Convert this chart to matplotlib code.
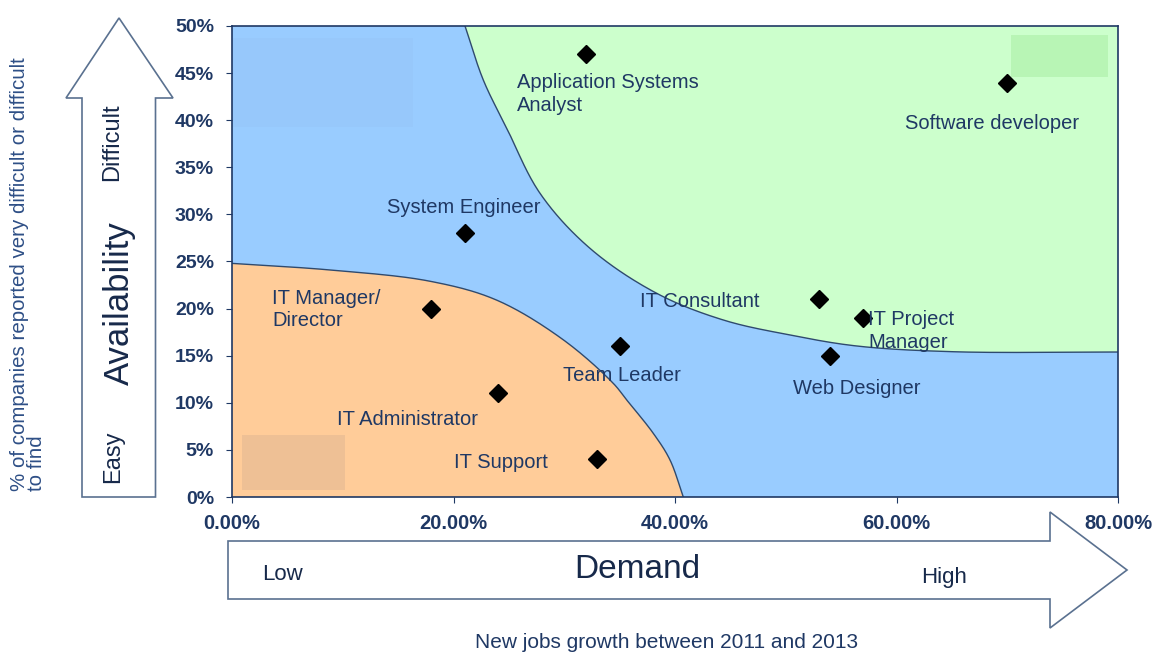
import numpy as np
import matplotlib
matplotlib.use('Agg')
import matplotlib.pyplot as plt
from matplotlib.patches import Polygon, Rectangle
from matplotlib.ticker import FuncFormatter, MultipleLocator

plt.rcParams['font.family'] = ['Liberation Sans', 'DejaVu Sans']

# job roles: demand (new jobs growth) vs availability (% hard to find)
roles = ['Application Systems\nAnalyst', 'Software developer', 'System Engineer',
         'IT Manager/\nDirector', 'Team Leader', 'IT Administrator', 'IT Support',
         'IT Consultant', 'IT Project\nManager', 'Web Designer']
demand = [0.32, 0.70, 0.21, 0.18, 0.35, 0.24, 0.33, 0.53, 0.57, 0.54]
availability = [0.47, 0.44, 0.28, 0.20, 0.16, 0.11, 0.04, 0.21, 0.19, 0.15]
# label offsets in pixels (dx, dy) from the marker, left aligned
label_dx = [-69, -102, -78, -159, -57, -161, -143, -179, 5, -37]
label_dy = [-40, -41, 26, -1, -29, -26, -3, -2, -13, -33]

# zone boundaries
green_x = [0.2104, 0.2269, 0.248, 0.2781, 0.3232, 0.3835, 0.4436, 0.5038, 0.5641,
           0.6519, 0.80]
green_y = [0.50, 0.4427, 0.3917, 0.3224, 0.264, 0.2162, 0.1879, 0.172, 0.1603,
           0.1542, 0.1539]
orange_x = [0.0, 0.0885, 0.179, 0.239, 0.299, 0.344, 0.3564, 0.3804, 0.3955, 0.4075]
orange_y = [0.248, 0.241, 0.229, 0.209, 0.167, 0.121, 0.103, 0.0676, 0.0393, 0.0]

xticks = [0.0, 0.2, 0.4, 0.6, 0.8]

navy = '#1f3864'
W, H = 1156, 653
YS = 942 / 1107.5  # y scale so the spline works in square pixels


def smooth(xs, ys, n=30, alpha=0.5):
    # centripetal catmull-rom through the boundary points
    pts = np.column_stack([xs, np.asarray(ys) * YS])
    P = np.vstack([2 * pts[0] - pts[1], pts, 2 * pts[-1] - pts[-2]])
    out = []
    for i in range(len(P) - 3):
        p0, p1, p2, p3 = P[i:i + 4]
        t0 = 0.0
        t1 = t0 + np.linalg.norm(p1 - p0) ** alpha
        t2 = t1 + np.linalg.norm(p2 - p1) ** alpha
        t3 = t2 + np.linalg.norm(p3 - p2) ** alpha
        t = np.linspace(t1, t2, n, endpoint=False)[:, None]
        a1 = (t1 - t) / (t1 - t0) * p0 + (t - t0) / (t1 - t0) * p1
        a2 = (t2 - t) / (t2 - t1) * p1 + (t - t1) / (t2 - t1) * p2
        a3 = (t3 - t) / (t3 - t2) * p2 + (t - t2) / (t3 - t2) * p3
        b1 = (t2 - t) / (t2 - t0) * a1 + (t - t0) / (t2 - t0) * a2
        b2 = (t3 - t) / (t3 - t1) * a2 + (t - t1) / (t3 - t1) * a3
        out.append((t2 - t) / (t2 - t1) * b1 + (t - t1) / (t2 - t1) * b2)
    out.append(pts[-1:])
    c = np.vstack(out)
    c[:, 1] /= YS
    return c


def fig_pts(pix):
    return [(x / W, 1 - y / H) for x, y in pix]


fig = plt.figure(figsize=(W / 100, H / 100), dpi=100)
ax = fig.add_axes([232 / W, 1 - 497 / H, 886 / W, 471 / H])
ax.set_facecolor('#99ccff')
ax.set_xlim(0, 0.8)
ax.set_ylim(0, 0.5)

g = smooth(green_x, green_y)
ax.add_patch(Polygon(np.vstack([g, [[0.8, 0.5]]]), closed=True,
                     facecolor='#ccffcc', edgecolor='none', zorder=1))
ax.plot(g[:, 0], g[:, 1], color='#2f4a6e', lw=1, zorder=2)
o = smooth(orange_x, orange_y)
ax.add_patch(Polygon(np.vstack([o, [[0.0, 0.0]]]), closed=True,
                     facecolor='#ffcc99', edgecolor='none', zorder=1))
ax.plot(o[:, 0], o[:, 1], color='#2f4a6e', lw=1, zorder=2)

# faint leftover boxes
ax.add_patch(Rectangle((0.001, 0.393), 0.162, 0.094, facecolor='#97c8fb',
                       edgecolor='none', zorder=1))
ax.add_patch(Rectangle((0.703, 0.446), 0.088, 0.044, facecolor='#b8f5b5',
                       edgecolor='none', zorder=1))
ax.add_patch(Rectangle((0.009, 0.007), 0.093, 0.059, facecolor='#eec095',
                       edgecolor='none', zorder=1))

ax.plot(demand, availability, 'D', color='black', ms=9, zorder=4)
for name, x, y, dx, dy in zip(roles, demand, availability, label_dx, label_dy):
    ax.annotate(name, (x, y), xytext=(dx * 0.72, dy * 0.72), textcoords='offset points',
                ha='left', va='center', fontsize=14.5, color=navy,
                linespacing=1.25, zorder=5)

ax.yaxis.set_major_locator(MultipleLocator(0.05))
ax.yaxis.set_major_formatter(FuncFormatter(lambda v, p: f'{v * 100:.0f}%'))
ax.set_xticks(xticks)
ax.xaxis.set_major_formatter(FuncFormatter(lambda v, p: f'{v * 100:.2f}%'))
ax.tick_params(axis='y', labelsize=14, labelcolor=navy, color=navy, length=4, pad=9)
ax.tick_params(axis='x', labelsize=14.5, labelcolor=navy, color=navy, length=4, pad=8)
for lab in ax.get_xticklabels() + ax.get_yticklabels():
    lab.set_fontweight('bold')
for s in ax.spines.values():
    s.set_color(navy)
    s.set_linewidth(1.2)

# arrows
edge = '#5a7190'
fig.patches.append(Polygon(fig_pts([(82, 497), (155.5, 497), (155.5, 98), (173, 98),
                                    (119, 18), (66, 98), (82, 98)]),
                           closed=True, transform=fig.transFigure, facecolor='white',
                           edgecolor=edge, lw=1.2))
fig.patches.append(Polygon(fig_pts([(228, 541), (1050, 541), (1050, 512), (1127, 570),
                                    (1050, 628), (1050, 599), (228, 599)]),
                           closed=True, transform=fig.transFigure, facecolor='white',
                           edgecolor=edge, lw=1.2))

dark = '#17294a'
fig.text(112 / W, 1 - 142 / H, 'Difficult', rotation=90, ha='center', va='center',
         fontsize=17, color=dark)
fig.text(119 / W, 1 - 303 / H, 'Availability', rotation=90, ha='center', va='center',
         fontsize=25, color=dark)
fig.text(113 / W, 1 - 457 / H, 'Easy', rotation=90, ha='center', va='center',
         fontsize=17, color=dark)
fig.text(28 / W, 1 - 491 / H, '% of companies reported very difficult or difficult\nto find',
         rotation=90, ha='center', va='bottom', multialignment='left',
         fontsize=14.8, color='#2e4f86', linespacing=0.9)

fig.text(262 / W, 1 - 575 / H, 'Low', ha='left', va='center', fontsize=16, color=dark)
fig.text(637 / W, 1 - 570 / H, 'Demand', ha='center', va='center', fontsize=24, color=dark)
fig.text(921 / W, 1 - 577 / H, 'High', ha='left', va='center', fontsize=16, color=dark)
fig.text(667 / W, 1 - 643 / H, 'New jobs growth between 2011 and 2013', ha='center',
         va='center', fontsize=15, color=navy)

fig.savefig('out.png', dpi=100)
